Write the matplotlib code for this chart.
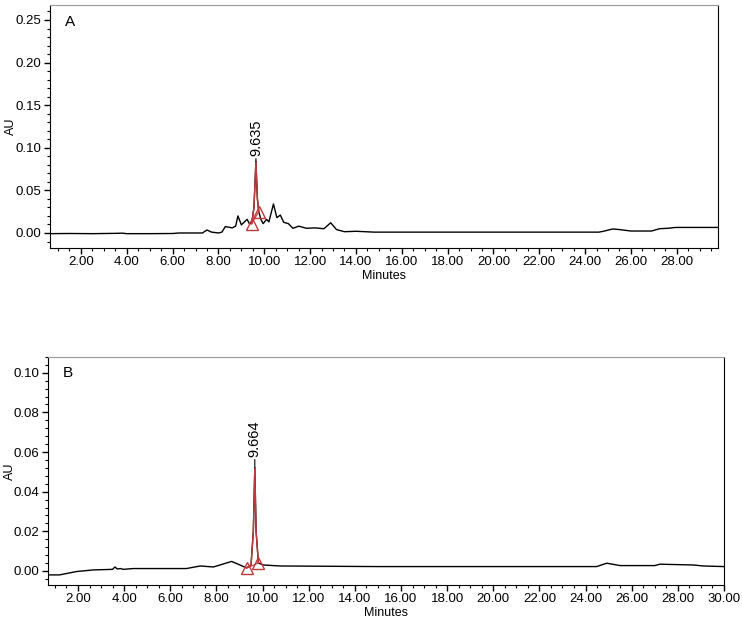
import matplotlib
matplotlib.use("Agg")
from matplotlib import pyplot as plt
from matplotlib.ticker import MultipleLocator, FormatStrFormatter

plt.rcParams['font.family'] = ['Liberation Sans', 'DejaVu Sans']

# chromatogram A (minutes, AU)
time_a = [0.6, 1.5, 2.5, 3.6, 3.8, 4.0, 5.0, 6.0, 6.3, 7.3, 7.5, 7.7, 8.0, 8.15,
          8.3, 8.6, 8.75, 8.85, 9.0, 9.25, 9.35, 9.45, 9.55, 9.635, 9.7, 9.76,
          9.85, 9.95, 10.1, 10.2, 10.4, 10.55, 10.7, 10.85, 11.05, 11.25, 11.5,
          11.85, 12.2, 12.6, 12.9, 13.15, 13.5, 14.0, 14.8, 16.0, 20.0, 24.6,
          24.8, 25.2, 25.5, 26.0, 26.9, 27.25, 27.6, 27.95, 29.8]
au_a = [-0.0008, -0.0006, -0.0008, -0.0004, -0.0002, -0.0008, -0.0008, -0.0006,
        0.0, 0.0, 0.0035, 0.001, 0.0, 0.001, 0.0075, 0.006, 0.008, 0.020,
        0.0095, 0.016, 0.011, 0.011, 0.03, 0.084, 0.04, 0.025, 0.016, 0.011,
        0.016, 0.013, 0.034, 0.018, 0.021, 0.0125, 0.011, 0.0055, 0.008, 0.0055,
        0.006, 0.005, 0.012, 0.004, 0.0015, 0.002, 0.001, 0.001, 0.001, 0.001,
        0.002, 0.0047, 0.004, 0.0023, 0.0023, 0.005, 0.0055, 0.0065, 0.0065]
peak_a = 9.635
peak_a_start = 9.45
peak_a_end = 9.76

# chromatogram B (minutes, AU)
time_b = [0.7, 1.2, 1.94, 2.66, 3.5, 3.6, 3.7, 3.85, 3.95, 4.4, 6.7, 7.3, 7.87,
          8.66, 9.02, 9.31, 9.5, 9.6, 9.664, 9.72, 9.82, 10.03, 10.76, 15.0,
          20.0, 24.48, 24.92, 25.5, 27.0, 27.23, 28.67, 29.1, 30.0]
au_b = [-0.002, -0.002, -0.0003, 0.0005, 0.0008, 0.002, 0.001, 0.0012, 0.0008,
        0.0012, 0.0012, 0.0025, 0.002, 0.0048, 0.003, 0.0015, 0.003, 0.02, 0.052,
        0.02, 0.004, 0.003, 0.0025, 0.0022, 0.0022, 0.0022, 0.0039, 0.0027,
        0.0027, 0.0034, 0.003, 0.0025, 0.0022]
peak_b = 9.664
peak_b_start = 9.31
peak_b_end = 9.82

red = '#c0393b'


def draw_panel(ax, t, y, peak, t0, t1, ylim, xlim, ymajor, yminor, letter,
               lead, ylab_x):
    ax.plot(t, y, color='black', lw=1.0)
    seg = [(ti, yi) for ti, yi in zip(t, y) if t0 <= ti <= t1]
    ax.plot([p[0] for p in seg], [p[1] for p in seg], color=red, lw=1.0)
    ax.plot([seg[0][0], seg[-1][0]], [seg[0][1], seg[-1][1]], color=red, lw=0.8)
    ax.plot([seg[0][0], seg[-1][0]], [seg[0][1], seg[-1][1]], ls='none',
            marker='^', ms=8, mfc='none', mec=red, mew=1.0)
    ymax = max(p[1] for p in seg)
    ax.annotate(f'{peak:.3f}', xy=(peak, ymax), xytext=(0, lead),
                textcoords='offset points', rotation=90, ha='center',
                va='bottom', fontsize=10.5,
                arrowprops=dict(arrowstyle='-', color='black', lw=0.8,
                                shrinkA=0, shrinkB=0))
    ax.set_xlim(*xlim)
    ax.set_ylim(*ylim)
    ax.xaxis.set_major_locator(MultipleLocator(2))
    ax.xaxis.set_minor_locator(MultipleLocator(0.5))
    ax.yaxis.set_major_locator(MultipleLocator(ymajor))
    ax.yaxis.set_minor_locator(MultipleLocator(yminor))
    ax.xaxis.set_major_formatter(FormatStrFormatter('%.2f'))
    ax.yaxis.set_major_formatter(FormatStrFormatter('%.2f'))
    ax.tick_params(which='major', direction='out', length=4, width=1,
                   labelsize=9.5, pad=2)
    ax.tick_params(which='minor', direction='out', length=2, width=0.8)
    ax.spines['top'].set_color('#9a9a9a')
    for s in ['left', 'bottom', 'right']:
        ax.spines[s].set_color('black')
    ax.set_xlabel('Minutes', fontsize=9, labelpad=1)
    ax.set_ylabel('AU', fontsize=9)
    ax.yaxis.set_label_coords(ylab_x, 0.5)
    ax.text(0.022, 0.93, letter, transform=ax.transAxes, fontsize=11,
            ha='left', va='center')
    # hide the 2.00-spaced label at the left limit
    ax.xaxis.get_major_ticks()[0].label1.set_visible(xlim[0] > 0.9)


fig = plt.figure(figsize=(7.42, 6.24), dpi=100)
ax1 = fig.add_axes([0.0674, 0.6026, 0.9003, 0.3894])
ax2 = fig.add_axes([0.0647, 0.0625, 0.9110, 0.3655])

draw_panel(ax1, time_a, au_a, peak_a, peak_a_start, peak_a_end,
           (-0.0176, 0.2676), (0.65, 29.8), 0.05, 0.01, 'A', 4, -0.05)
draw_panel(ax2, time_b, au_b, peak_b, peak_b_start, peak_b_end,
           (-0.0071, 0.108), (0.70, 30.0), 0.02, 0.004, 'B', 8, -0.047)

fig.savefig('out.png', dpi=100)
